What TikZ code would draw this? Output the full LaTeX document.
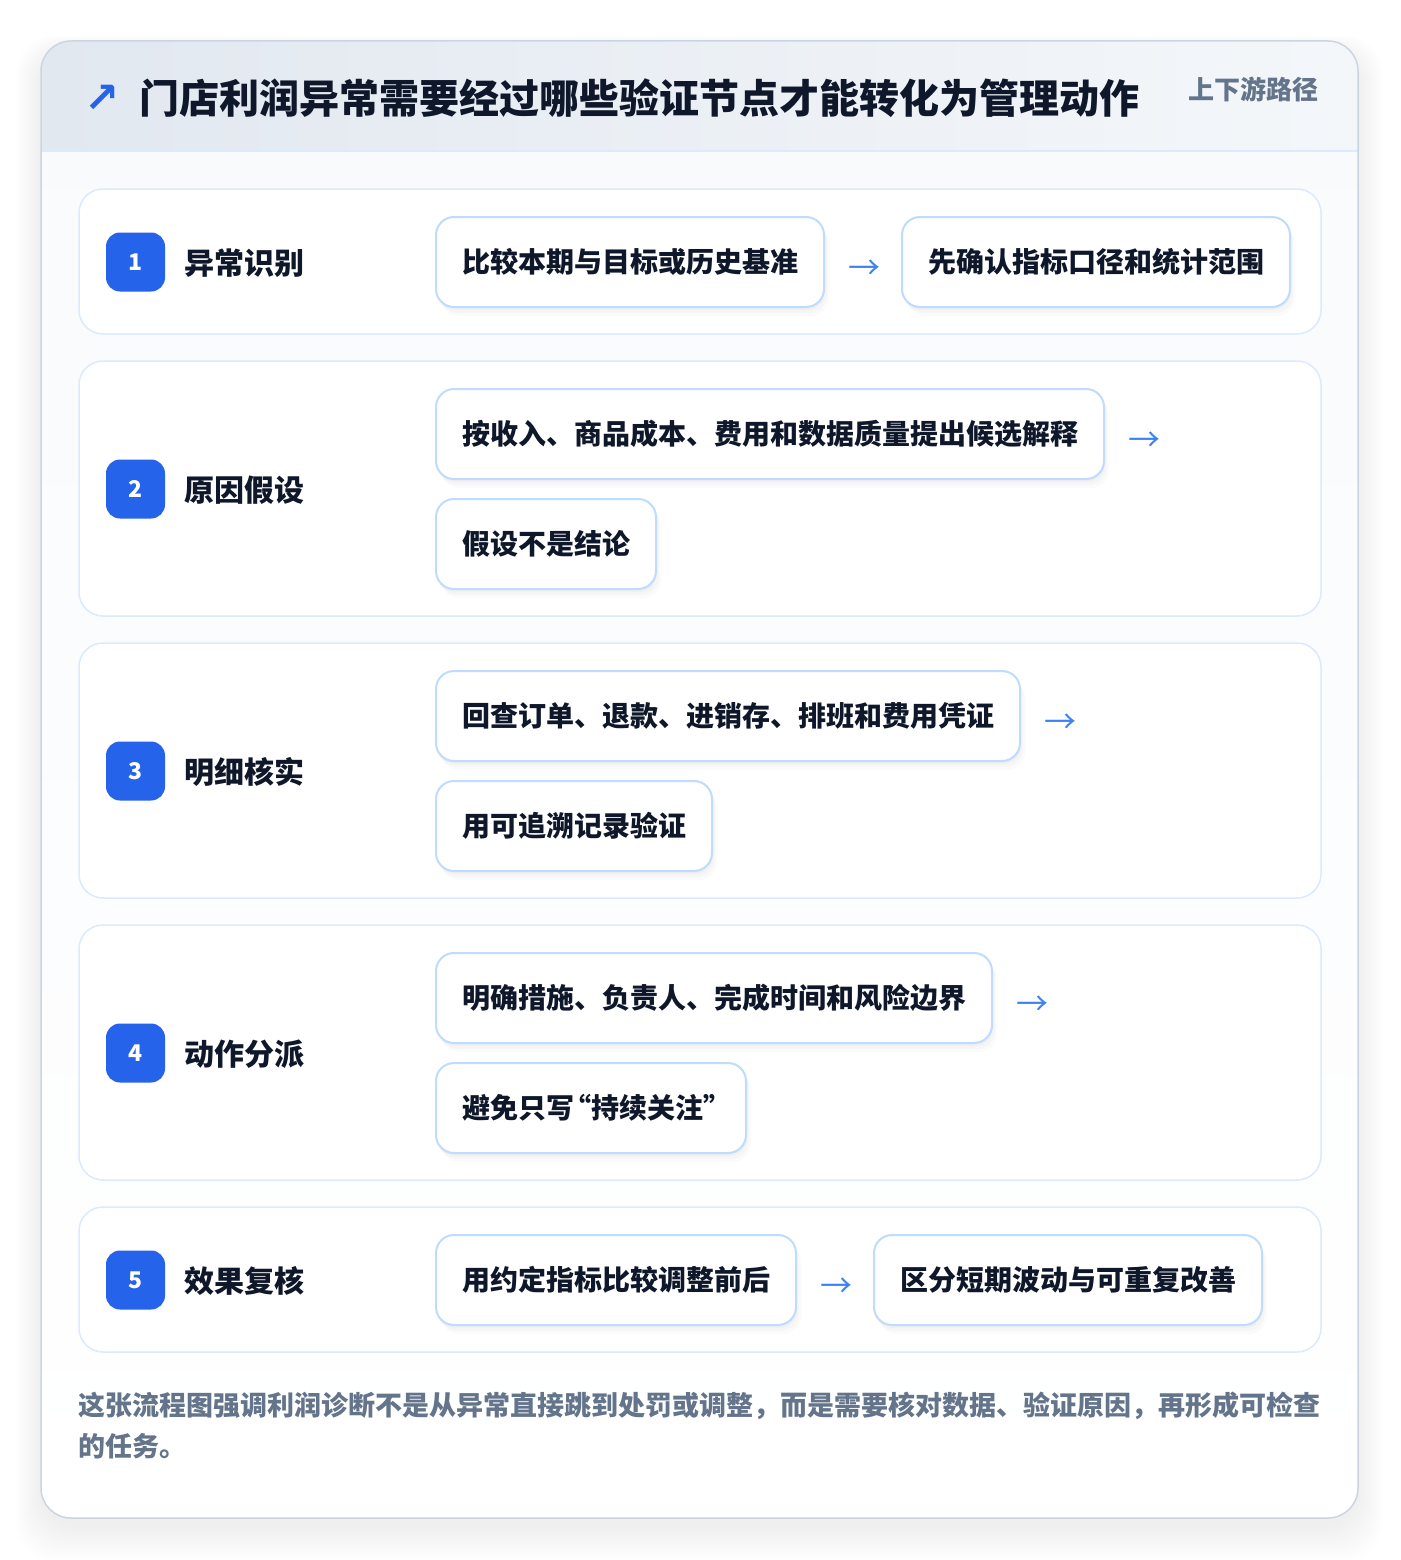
\documentclass[tikz,border=0pt]{standalone}
\usepackage{fontspec}
\setmainfont{Noto Sans CJK SC}
\newfontfamily\symfont{DejaVu Sans}
\usetikzlibrary{shadows}
\definecolor{ink}{HTML}{0F172A}
\definecolor{muted}{HTML}{64748B}
\definecolor{brand}{HTML}{2563EB}
\definecolor{arrowblue}{HTML}{3B82F6}
\definecolor{cardline}{HTML}{CBD5E1}
\definecolor{rowline}{HTML}{DBEAFE}
\definecolor{boxline}{HTML}{BFDBFE}
\definecolor{hdrL}{HTML}{E2E8F0}
\definecolor{hdrR}{HTML}{F4F7FA}
\definecolor{bodytop}{HTML}{F8FAFC}
\tikzset{
  rowcard/.style={draw=rowline, line width=1.5pt, fill=white, rounded corners=24pt,
    minimum width=1242pt, inner sep=0pt},
  badge/.style={fill=brand, rounded corners=14pt, minimum width=59pt, minimum height=59pt,
    inner sep=0pt, text=white, font=\fontsize{23}{26}\selectfont\bfseries},
  steplabel/.style={anchor=west, inner sep=0pt, text=ink, font=\fontsize{30}{36}\selectfont\bfseries},
  stepbox/.style={anchor=west, draw=boxline, line width=2pt, fill=white, rounded corners=18pt,
    minimum height=90pt, inner xsep=26pt, inner ysep=0pt, text=ink,
    font=\fontsize{28}{34}\selectfont\bfseries,
    general shadow={shadow xshift=1pt, shadow yshift=-3pt, fill=black, opacity=0.025},
    general shadow={shadow xshift=3pt, shadow yshift=-6pt, fill=black, opacity=0.02},
    general shadow={shadow xshift=5pt, shadow yshift=-9pt, fill=black, opacity=0.015}},
  flowarrow/.style={inner sep=0pt, text=arrowblue, font=\fontsize{32}{36}\selectfont},
  foot/.style={anchor=base west, inner sep=0pt, text=muted, font=\fontsize{27}{34}\selectfont\bfseries},
}
\begin{document}
\begin{tikzpicture}[x=1pt,y=-1pt]
\useasboundingbox (0,0) rectangle (1400,1560);
\fill[white] (0,0) rectangle (1400,1560);
% soft outer shadow
\foreach \k in {1,...,16} {
  \fill[black, opacity=0.0045, rounded corners=40pt]
    (41-\k*1.6, 41-\k*1.0+10) rectangle (1358+\k*1.6, 1518+\k*2.2+8);
}
% card body
\path[rounded corners=30pt, top color=bodytop, bottom color=white]
  (41,41) rectangle (1358,1518);
\begin{scope}
  \clip[rounded corners=30pt] (41,41) rectangle (1358,1518);
  \shade[left color=hdrL, right color=hdrR] (41,41) rectangle (1358,151);
\end{scope}
\draw[rowline, line width=1.5pt] (41,151) -- (1358,151);
\draw[cardline, line width=1.5pt, rounded corners=30pt] (41,41) rectangle (1358,1518);

% header
\node[inner sep=0pt, text=brand, font=\symfont\fontsize{42}{44}\selectfont\bfseries] (icon) at (102,99) {↗};
\node[anchor=west, inner sep=0pt, text=ink, font=\fontsize{40}{46}\selectfont\bfseries] (title) at (139,98) {门店利润异常需要经过哪些验证节点才能转化为管理动作};
\node[anchor=east, inner sep=0pt, text=muted, font=\fontsize{26}{30}\selectfont\bfseries] (tag) at (1319,89) {上下游路径};

% row cards
\node[rowcard, minimum height=145pt] (c1) at (700,261.5) {};
\node[rowcard, minimum height=255pt] (c2) at (700,488.5) {};
\node[rowcard, minimum height=255pt] (c3) at (700,770.5) {};
\node[rowcard, minimum height=255pt] (c4) at (700,1052.5) {};
\node[rowcard, minimum height=145pt] (c5) at (700,1279.5) {};

% badges + labels
\node[badge] (b1) at (135.5,262) {1};
\node[steplabel] (l1) at (184,263) {异常识别};
\node[badge] (b2) at (135.5,489) {2};
\node[steplabel] (l2) at (184,490) {原因假设};
\node[badge] (b3) at (135.5,771) {3};
\node[steplabel] (l3) at (184,772) {明细核实};
\node[badge] (b4) at (135.5,1053) {4};
\node[steplabel] (l4) at (184,1054) {动作分派};
\node[badge] (b5) at (135.5,1280) {5};
\node[steplabel] (l5) at (184,1281) {效果复核};

% row 1
\node[stepbox] (r1a) at (435,262) {比较本期与目标或历史基准};
\node[flowarrow] (a1) at ([xshift=39pt,yshift=-8pt]r1a.east) {→};
\node[stepbox] (r1b) at (901,262) {先确认指标口径和统计范围};
% row 2
\node[stepbox] (r2a) at (435,434) {按收入、商品成本、费用和数据质量提出候选解释};
\node[flowarrow] (a2) at ([xshift=39pt,yshift=-8pt]r2a.east) {→};
\node[stepbox] (r2b) at (435,544) {假设不是结论};
% row 3
\node[stepbox] (r3a) at (435,716) {回查订单、退款、进销存、排班和费用凭证};
\node[flowarrow] (a3) at ([xshift=39pt,yshift=-8pt]r3a.east) {→};
\node[stepbox] (r3b) at (435,826) {用可追溯记录验证};
% row 4
\node[stepbox] (r4a) at (435,998) {明确措施、负责人、完成时间和风险边界};
\node[flowarrow] (a4) at ([xshift=39pt,yshift=-8pt]r4a.east) {→};
\node[stepbox] (r4b) at (435,1108) {避免只写\kern-11pt“持续关注”\kern-11pt};
% row 5
\node[stepbox] (r5a) at (435,1280) {用约定指标比较调整前后};
\node[flowarrow] (a5) at ([xshift=39pt,yshift=-8pt]r5a.east) {→};
\node[stepbox] (r5b) at (873,1280) {区分短期波动与可重复改善};

% footer
\node[foot] (f1) at (78,1415) {这张流程图强调利润诊断不是从异常直接跳到处罚或调整，而是需要核对数据、验证原因，再形成可检查};
\node[foot] (f2) at (78,1456) {的任务。};
\end{tikzpicture}
\end{document}
